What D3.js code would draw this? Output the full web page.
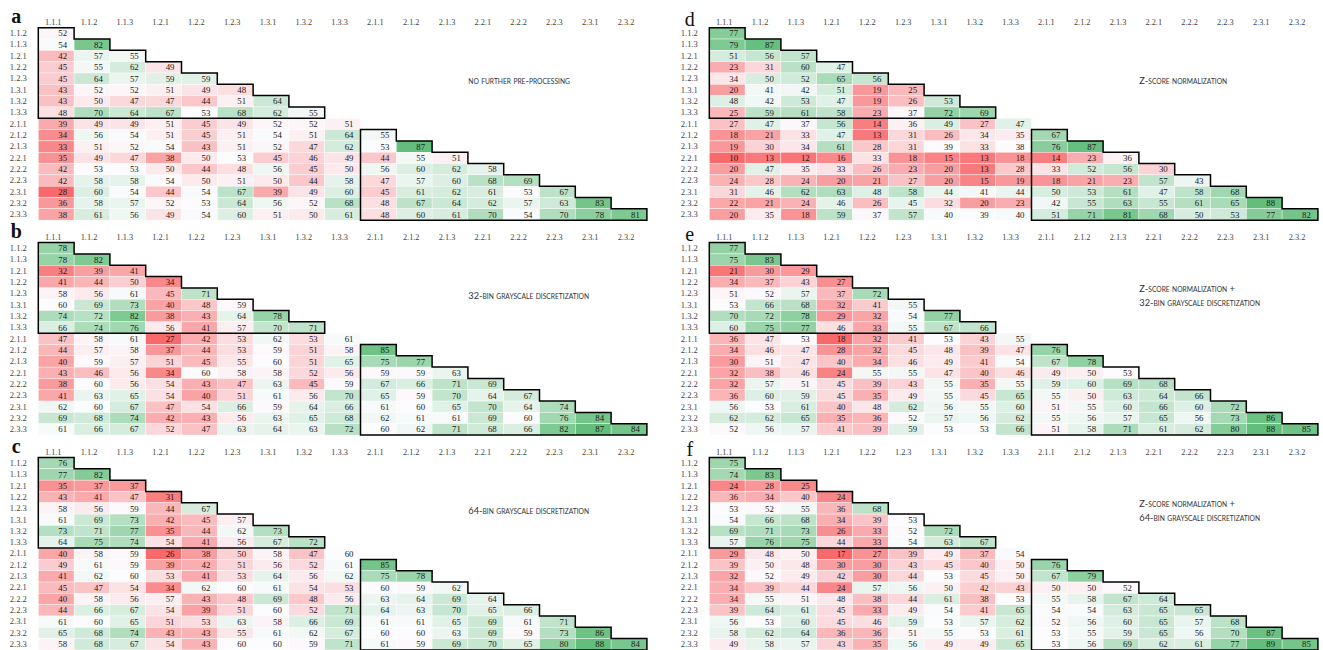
<!DOCTYPE html>
<html>
<head>
<meta charset="utf-8">
<script src="https://cdn.jsdelivr.net/npm/d3@7"></script>
<style>
  body { margin: 0; background: #fff; }
  svg { display: block; }
</style>
</head>
<body>
<svg id="chart" width="1323" height="650"></svg>
<script>
// Class labels (rows start at 1.1.2, columns end at 2.3.2: lower triangle)
const categories = ["1.1.1","1.1.2","1.1.3","1.2.1","1.2.2","1.2.3","1.3.1","1.3.2","1.3.3",
                    "2.1.1","2.1.2","2.1.3","2.2.1","2.2.2","2.2.3","2.3.1","2.3.2","2.3.3"];
const rowCats = categories.slice(1);
const colCats = categories.slice(0, 17);

// a: no further pre-processing
const panelA = [
  [52],
  [54, 82],
  [42, 57, 55],
  [45, 55, 62, 49],
  [45, 64, 57, 59, 59],
  [43, 52, 52, 51, 49, 48],
  [43, 50, 47, 47, 44, 51, 64],
  [48, 70, 64, 67, 53, 68, 62, 55],
  [39, 49, 49, 51, 45, 49, 52, 52, 51],
  [34, 56, 54, 51, 45, 51, 54, 51, 64, 55],
  [33, 51, 52, 54, 43, 51, 52, 47, 62, 53, 87],
  [35, 49, 47, 38, 50, 53, 45, 46, 49, 44, 55, 51],
  [42, 53, 53, 50, 44, 48, 56, 45, 50, 56, 60, 62, 58],
  [42, 58, 58, 54, 50, 51, 50, 44, 58, 47, 57, 60, 68, 69],
  [28, 60, 54, 44, 54, 67, 39, 49, 60, 45, 61, 62, 61, 53, 67],
  [36, 58, 57, 52, 53, 64, 56, 52, 68, 48, 67, 64, 62, 57, 63, 83],
  [38, 61, 56, 49, 54, 60, 51, 50, 61, 48, 60, 61, 70, 54, 70, 78, 81]
];

// b: 32-bin grayscale discretization
const panelB = [
  [78],
  [78, 82],
  [32, 39, 41],
  [41, 44, 50, 34],
  [58, 56, 61, 45, 71],
  [60, 69, 73, 40, 48, 59],
  [74, 72, 82, 38, 43, 64, 78],
  [66, 74, 76, 56, 41, 57, 70, 71],
  [47, 58, 61, 27, 42, 53, 62, 53, 61],
  [44, 57, 58, 37, 44, 53, 59, 51, 58, 85],
  [40, 59, 57, 51, 45, 55, 60, 51, 65, 75, 77],
  [43, 46, 56, 34, 60, 58, 58, 52, 56, 59, 59, 63],
  [38, 60, 56, 54, 43, 47, 63, 45, 59, 67, 66, 71, 69],
  [41, 63, 65, 54, 40, 51, 61, 56, 70, 65, 59, 70, 64, 67],
  [62, 60, 67, 47, 54, 66, 59, 64, 66, 61, 60, 65, 70, 64, 74],
  [69, 68, 74, 42, 43, 56, 63, 65, 68, 62, 61, 61, 69, 60, 76, 84],
  [61, 66, 67, 52, 47, 63, 64, 63, 72, 60, 62, 71, 68, 66, 82, 87, 84]
];

// c: 64-bin grayscale discretization
const panelC = [
  [76],
  [77, 82],
  [35, 37, 37],
  [43, 41, 47, 31],
  [58, 56, 59, 44, 67],
  [61, 69, 73, 42, 45, 57],
  [73, 71, 77, 35, 44, 62, 73],
  [64, 75, 74, 54, 41, 56, 67, 72],
  [40, 58, 59, 26, 38, 50, 58, 47, 60],
  [49, 61, 59, 39, 42, 51, 56, 52, 61, 85],
  [41, 62, 60, 53, 41, 53, 64, 56, 62, 75, 78],
  [45, 47, 54, 34, 62, 60, 61, 54, 53, 60, 59, 62],
  [40, 58, 56, 57, 43, 48, 69, 48, 56, 63, 64, 69, 64],
  [44, 66, 67, 54, 39, 51, 60, 52, 71, 64, 63, 70, 65, 66],
  [61, 60, 65, 51, 53, 63, 58, 66, 69, 61, 61, 65, 69, 61, 71],
  [65, 68, 74, 43, 43, 55, 61, 62, 67, 60, 60, 63, 69, 59, 73, 86],
  [58, 68, 67, 54, 43, 60, 60, 59, 71, 61, 59, 69, 70, 65, 80, 88, 84]
];

// d: z-score normalization
const panelD = [
  [77],
  [79, 87],
  [51, 56, 57],
  [23, 31, 60, 47],
  [34, 50, 52, 65, 56],
  [20, 41, 42, 51, 19, 25],
  [48, 42, 53, 47, 19, 26, 53],
  [25, 59, 61, 58, 23, 37, 72, 69],
  [27, 47, 37, 56, 14, 36, 49, 27, 47],
  [18, 21, 33, 47, 13, 31, 26, 34, 35, 67],
  [19, 30, 34, 61, 28, 31, 39, 33, 38, 76, 87],
  [10, 13, 12, 16, 33, 18, 15, 13, 18, 14, 23, 36],
  [20, 47, 35, 33, 26, 23, 20, 13, 28, 33, 52, 56, 30],
  [24, 28, 24, 20, 21, 27, 20, 15, 19, 18, 21, 23, 57, 43],
  [31, 46, 62, 63, 48, 58, 44, 41, 44, 50, 53, 61, 47, 58, 68],
  [22, 21, 24, 46, 26, 45, 32, 20, 23, 42, 55, 63, 55, 61, 65, 88],
  [20, 35, 18, 59, 37, 57, 40, 39, 40, 51, 71, 81, 68, 50, 53, 77, 82]
];

// e: z-score normalization + 32-bin grayscale discretization
const panelE = [
  [77],
  [75, 83],
  [21, 30, 29],
  [34, 37, 43, 27],
  [51, 52, 57, 37, 72],
  [53, 66, 68, 32, 41, 55],
  [70, 72, 78, 29, 32, 54, 77],
  [60, 75, 77, 46, 33, 55, 67, 66],
  [36, 47, 53, 18, 32, 41, 53, 43, 55],
  [34, 46, 47, 28, 32, 45, 48, 39, 47, 76],
  [30, 51, 47, 40, 34, 46, 49, 41, 54, 67, 78],
  [32, 38, 46, 24, 55, 55, 47, 40, 46, 49, 50, 53],
  [32, 57, 51, 45, 39, 43, 55, 35, 55, 59, 60, 69, 68],
  [36, 60, 59, 45, 35, 49, 55, 45, 65, 55, 50, 63, 64, 66],
  [56, 53, 61, 40, 48, 62, 56, 55, 60, 51, 55, 60, 66, 60, 72],
  [62, 62, 65, 35, 36, 52, 57, 56, 62, 55, 56, 57, 65, 56, 73, 86],
  [52, 56, 57, 41, 39, 59, 53, 53, 66, 51, 58, 71, 61, 62, 80, 88, 85]
];

// f: z-score normalization + 64-bin grayscale discretization
const panelF = [
  [75],
  [74, 83],
  [24, 28, 25],
  [36, 34, 40, 24],
  [53, 52, 55, 36, 68],
  [54, 66, 68, 34, 39, 53],
  [69, 71, 73, 26, 33, 52, 72],
  [57, 76, 75, 44, 33, 54, 63, 67],
  [29, 48, 50, 17, 27, 39, 49, 37, 54],
  [39, 50, 48, 30, 30, 43, 45, 40, 50, 76],
  [32, 52, 49, 42, 30, 44, 53, 45, 50, 67, 79],
  [34, 39, 44, 24, 57, 56, 50, 42, 43, 50, 50, 52],
  [34, 55, 51, 48, 38, 44, 61, 38, 53, 55, 58, 67, 64],
  [39, 64, 61, 45, 33, 49, 54, 41, 65, 54, 54, 63, 65, 65],
  [56, 53, 60, 45, 46, 59, 53, 57, 62, 52, 56, 60, 65, 57, 68],
  [58, 62, 64, 36, 36, 51, 55, 53, 61, 53, 55, 59, 65, 56, 70, 87],
  [49, 58, 57, 43, 35, 56, 49, 49, 65, 53, 56, 69, 62, 61, 77, 89, 85]
];

const panelLetters = ["a", "b", "c", "d", "e", "f"];
const panelTitles = [
  ["no further pre-processing"],
  ["32-bin grayscale discretization"],
  ["64-bin grayscale discretization"],
  ["Z-score normalization"],
  ["Z-score normalization +", "32-bin grayscale discretization"],
  ["Z-score normalization +", "64-bin grayscale discretization"]
];
const panelValues = [panelA, panelB, panelC, panelD, panelE, panelF];

// within-group blocks that get a black staircase outline
const blocks = [
  { rowStart: 0, colStart: 0, size: 8 },   // 1.x.x vs 1.x.x
  { rowStart: 9, colStart: 9, size: 8 }    // 2.x.x vs 2.x.x
];

// ---- layout ----
const COL_W = 35.8, ROW_H = 11.32;
const GRID_LEFT = [38.3, 709.3];
const GRID_TOP0 = 27.7, PANEL_STEP = 214.9;
const SERIF = "'Liberation Serif', 'Times New Roman', serif";
const SANS = "Lato, 'Open Sans', sans-serif";
const colorStops = ["#F8696B", "#FCFCFF", "#63BE7B"];
const TITLE_BIG = 9.3, TITLE_SMALL = 6.7;

const svg = d3.select("#chart");

panelValues.forEach((values, p) => {
  const col = p < 3 ? 0 : 1;
  const gx = GRID_LEFT[col];
  const gy = GRID_TOP0 + (p % 3) * PANEL_STEP;

  const x = d3.scaleBand().domain(colCats).range([gx, gx + colCats.length * COL_W]);
  const y = d3.scaleBand().domain(rowCats).range([gy, gy + rowCats.length * ROW_H]);

  const cells = [];
  values.forEach((row, ri) => row.forEach((v, ci) => cells.push({ r: rowCats[ri], c: colCats[ci], v })));
  const all = cells.map(d => d.v);
  const color = d3.scaleLinear()
    .domain([d3.min(all), d3.median(all), d3.max(all)])
    .range(colorStops)
    .interpolate(d3.interpolateRgb);

  const g = svg.append("g").attr("class", "panel");

  g.append("g").selectAll("rect").data(cells).join("rect")
    .attr("x", d => x(d.c))
    .attr("y", d => y(d.r))
    .attr("width", x.bandwidth())
    .attr("height", y.bandwidth())
    .attr("fill", d => color(d.v))
    .attr("stroke", "#fff")
    .attr("stroke-width", 0.4);

  g.append("g").selectAll("text").data(cells).join("text")
    .attr("x", d => x(d.c) + x.bandwidth() - 7)
    .attr("y", d => y(d.r) + y.bandwidth() / 2)
    .attr("dy", "0.35em")
    .attr("text-anchor", "end")
    .attr("font-family", SERIF)
    .attr("font-size", 8.8)
    .attr("fill", "#1a1a1a")
    .text(d => d.v);

  // staircase outlines around within-group blocks
  blocks.forEach(b => {
    const left = x(colCats[b.colStart]);
    const path = d3.path();
    path.moveTo(left, y(rowCats[b.rowStart]));
    for (let k = 0; k < b.size; k++) {
      const r = rowCats[b.rowStart + k];
      const right = x(colCats[b.colStart + k]) + x.bandwidth();
      path.lineTo(right, y(r));
      path.lineTo(right, y(r) + y.bandwidth());
    }
    path.lineTo(left, y(rowCats[b.rowStart + b.size - 1]) + y.bandwidth());
    path.closePath();
    g.append("path")
      .attr("d", path.toString())
      .attr("fill", "none")
      .attr("stroke", "#000")
      .attr("stroke-width", 1.5)
      .attr("stroke-linejoin", "miter");
  });

  // column labels
  const top = g.append("g")
    .attr("transform", `translate(0,${gy})`)
    .call(d3.axisTop(x).tickSize(0).tickPadding(2.8));
  top.select(".domain").remove();
  top.selectAll("text")
    .attr("x", -3)
    .attr("font-family", SERIF)
    .attr("font-size", 8.3)
    .attr("fill", "#444");

  // row labels
  const left = g.append("g")
    .attr("transform", `translate(${gx},0)`)
    .call(d3.axisLeft(y).tickSize(0));
  left.select(".domain").remove();
  left.selectAll("text")
    .attr("x", -20)
    .attr("text-anchor", "middle")
    .attr("font-family", SERIF)
    .attr("font-size", 8.6)
    .attr("fill", "#444");

  // panel letter
  g.append("text")
    .attr("x", gx - (col === 0 ? 22 : 19.5))
    .attr("y", gy - (col === 0 ? 5 : 1.5))
    .attr("text-anchor", "middle")
    .attr("font-family", SERIF)
    .attr("font-size", 20)
    .attr("font-weight", col === 0 ? "bold" : "normal")
    .attr("fill", "#111")
    .text(panelLetters[p]);

  // title in small caps: capitals/digits full size, lowercase letters as reduced capitals
  const lines = panelTitles[p];
  const lineY = lines.length === 1 ? [gy + 53.5] : [gy + 47, gy + 60.5];
  lines.forEach((line, li) => {
    const t = g.append("text")
      .attr("x", gx + 430)
      .attr("y", lineY[li] + 2.5)
      .attr("font-family", SANS)
      .attr("font-size", TITLE_SMALL)
      .attr("fill", "#333");
    const runs = line.match(/[a-z]+|[^a-z]+/g);
    runs.forEach(run => {
      const small = /[a-z]/.test(run);
      t.append("tspan")
        .attr("font-size", small ? TITLE_SMALL : TITLE_BIG)
        .text(run.toUpperCase());
    });
  });
});
</script>
</body>
</html>
